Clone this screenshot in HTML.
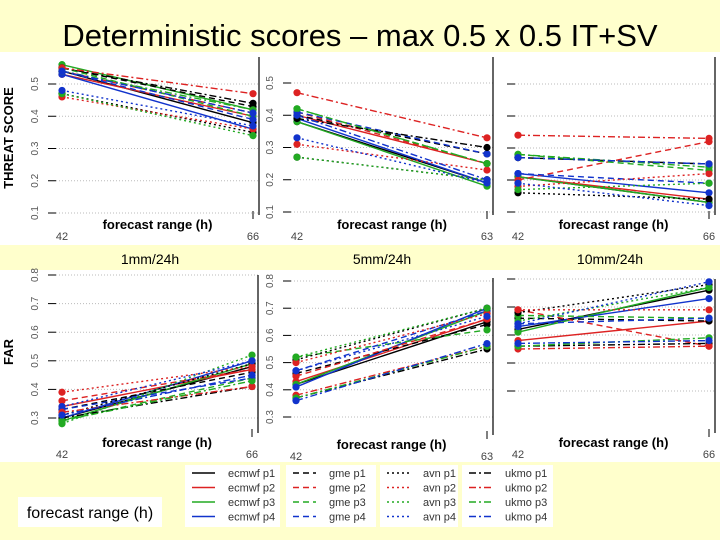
<!DOCTYPE html>
<html><head><meta charset="utf-8">
<style>
body{margin:0;background:#ffffcc;width:720px;height:540px;overflow:hidden;font-family:"Liberation Sans",sans-serif}
svg{position:absolute;left:0;top:0}
</style></head>
<body>
<svg width="720" height="540" xmlns="http://www.w3.org/2000/svg">
<rect x="0" y="0" width="720" height="540" fill="#ffffcc"/>
<text x="360" y="46" text-anchor="middle" font-size="31" fill="#000">Deterministic scores – max 0.5 x 0.5 IT+SV</text>
<g id="panels"></g>
<g id="legend"></g>
</svg>
<script>
const models = ["ecmwf","gme","avn","ukmo"];
const params = ["p1","p2","p3","p4"];
const colors = ["#000000","#dd2222","#22aa22","#1133cc"];
const ts1mm42 = [[0.54,0.53,0.56,0.53],[0.55,0.54,0.55,0.54],[0.47,0.46,0.47,0.48],[0.55,0.55,0.54,0.54]];
const ts1mm66 = [[0.38,0.40,0.42,0.36],[0.43,0.41,0.40,0.39],[0.35,0.36,0.34,0.37],[0.44,0.47,0.42,0.41]];
const ts5mm42 = [[0.38,0.40,0.38,0.39],[0.40,0.41,0.42,0.41],[0.27,0.31,0.27,0.33],[0.39,0.47,0.42,0.40]];
const ts5mm63 = [[0.19,0.25,0.18,0.19],[0.28,0.25,0.25,0.28],[0.20,0.23,0.20,0.19],[0.30,0.33,0.25,0.20]];
const ts10mm42 = [[0.21,0.21,0.21,0.22],[0.27,0.20,0.28,0.22],[0.16,0.18,0.17,0.19],[0.27,0.34,0.28,0.27]];
const ts10mm66 = [[0.13,0.14,0.13,0.16],[0.25,0.32,0.23,0.19],[0.14,0.22,0.19,0.12],[0.25,0.33,0.24,0.25]];
const far1mm42 = [[0.30,0.34,0.29,0.30],[0.33,0.36,0.29,0.33],[0.31,0.39,0.28,0.34],[0.30,0.32,0.29,0.31]];
const far1mm66 = [[0.48,0.47,0.49,0.50],[0.46,0.47,0.44,0.44],[0.49,0.48,0.52,0.50],[0.41,0.41,0.43,0.45]];
const far5mm42 = [[0.42,0.43,0.42,0.41],[0.46,0.45,0.52,0.47],[0.51,0.50,0.52,0.47],[0.37,0.38,0.37,0.36]];
const far5mm63 = [[0.65,0.66,0.69,0.70],[0.64,0.66,0.62,0.69],[0.70,0.68,0.70,0.67],[0.55,0.56,0.56,0.57]];
const far10mm42 = [[0.62,0.58,0.61,0.63],[0.66,0.69,0.67,0.64],[0.68,0.69,0.65,0.64],[0.56,0.55,0.56,0.57]];
const far10mm66 = [[0.76,0.65,0.77,0.73],[0.65,0.56,0.66,0.66],[0.78,0.69,0.77,0.79],[0.57,0.56,0.59,0.58]];
const tsTicks = [0.1,0.2,0.3,0.4,0.5];
const farTicks = [0.3,0.4,0.5,0.6,0.7,0.8];
const farTicksR = [0.4,0.5,0.6,0.7,0.8];

const NS="http://www.w3.org/2000/svg";
const dashes=["", "6,4", "2,3", "7,3,2,3"];
function mk(tag,attrs,parent){const e=document.createElementNS(NS,tag);for(const k in attrs)e.setAttribute(k,attrs[k]);parent.appendChild(e);return e;}
const P=document.getElementById("panels");

const panels=[
 {name:"ts-1mm",bg:[0,52,262,193],a:ts1mm42,b:ts1mm66,xa:62,xb:253,v0:0.5,y0:84,v1:0.1,y1:213,ticks:tsTicks,axX:48,endLab:"66",top:57,bot:215},
 {name:"ts-5mm",bg:[262,52,238,193],a:ts5mm42,b:ts5mm63,xa:297,xb:487,v0:0.5,y0:83,v1:0.1,y1:212,ticks:tsTicks,axX:283,endLab:"63",top:57,bot:215},
 {name:"ts-10mm",bg:[500,52,220,193],a:ts10mm42,b:ts10mm66,xa:518,xb:709,v0:0.5,y0:84,v1:0.1,y1:212,ticks:tsTicks,axX:507,endLab:"66",top:57,bot:215,nolab:true},
 {name:"far-1mm",bg:[0,270,262,192],a:far1mm42,b:far1mm66,xa:62,xb:252,v0:0.8,y0:275,v1:0.3,y1:418,ticks:farTicks,axX:48,endLab:"66",top:275,bot:433},
 {name:"far-5mm",bg:[262,270,238,192],a:far5mm42,b:far5mm63,xa:296,xb:487,v0:0.8,y0:281,v1:0.3,y1:417,ticks:farTicks,axX:283,endLab:"63",top:278,bot:435},
 {name:"far-10mm",bg:[500,270,220,192],a:far10mm42,b:far10mm66,xa:518,xb:709,v0:0.8,y0:279,v1:0.4,y1:391,ticks:farTicksR,axX:507,endLab:"66",top:279,bot:433,nolab:true}
];
panels.forEach(p=>{
 const g=mk("g",{},P);
 
 
 const bg=mk("rect",{x:p.bg[0],y:p.bg[1],width:p.bg[2],height:p.bg[3],fill:"#fff"},g);
 
 
 const yOf=v=>p.y0+(v-p.v0)*(p.y1-p.y0)/(p.v1-p.v0);
 const right=p.xb+6;
 p.ticks.forEach(t=>{
  const y=yOf(t);
  mk("line",{x1:p.axX+8,x2:right,y1:y,y2:y,stroke:"#bbb","stroke-dasharray":"1,2","stroke-width":1},g);
  mk("line",{x1:p.axX,x2:p.axX+8,y1:y,y2:y,stroke:"#000","stroke-width":1},g);
  if(!p.nolab){
   const tx=mk("text",{x:p.axX-10,y:y,"font-size":"10",fill:"#555","text-anchor":"middle",transform:`rotate(-90 ${p.axX-10} ${y})`},g);
   tx.textContent=String(t);
   
   
  }
 });
 mk("line",{x1:right,x2:right,y1:p.top,y2:p.bot,stroke:"#000","stroke-width":1.2},g);
 mk("line",{x1:p.xb,x2:p.xb,y1:p.bot-4,y2:p.bot+4,stroke:"#000"},g);
 for(let m=0;m<4;m++)for(let k=0;k<4;k++){
  const y1=yOf(p.a[m][k]), y2=yOf(p.b[m][k]);
  const ln=mk("line",{x1:p.xa,x2:p.xb,y1:y1,y2:y2,stroke:colors[k],"stroke-width":1.4,"stroke-dasharray":dashes[m]},g);
  
  
  [[p.xa,y1],[p.xb,y2]].forEach(pt=>{
   const c=mk("circle",{cx:pt[0],cy:pt[1],r:3.6,fill:colors[k]},g);
   
   
  });
 }
 const xl=mk("text",{x:(p.xa+p.xb)/2,y:p.bot+14,"font-size":"13","font-weight":"bold","text-anchor":"middle",fill:"#000"},g);
 xl.textContent="forecast range (h)";
 
 
 const l1=mk("text",{x:p.xa,y:p.bot+25,"font-size":"11","text-anchor":"middle",fill:"#444"},g);
 l1.textContent="42";
 
 
 const l2=mk("text",{x:p.xb,y:p.bot+25,"font-size":"11","text-anchor":"middle",fill:"#444"},g);
 l2.textContent=p.endLab;
 
 
});
const L=document.getElementById("legend");
[["1mm/24h",150],["5mm/24h",382],["10mm/24h",610]].forEach(s=>{
 const t=mk("text",{x:s[1],y:264,"font-size":"14","text-anchor":"middle",fill:"#000"},L);
 t.textContent=s[0];
 
 
});
const ya=mk("text",{x:13,y:138,"font-size":"13","font-weight":"bold","text-anchor":"middle",transform:"rotate(-90 13 138)"},L);
ya.textContent="THREAT SCORE";


const yb=mk("text",{x:13,y:352,"font-size":"13","font-weight":"bold","text-anchor":"middle",transform:"rotate(-90 13 352)"},L);
yb.textContent="FAR";


const fb=mk("rect",{x:18,y:497,width:144,height:30,fill:"#fff"},L);


const ft=mk("text",{x:90,y:518,"font-size":"16","text-anchor":"middle"},L);
ft.textContent="forecast range (h)";


const boxes=[[185,95],[286,90],[380,78],[462,91]];
const legendNames=[["ecmwf p1","ecmwf p2","ecmwf p3","ecmwf p4"],["gme p1","gme p2","gme p3","gme p4"],["avn p1","avn p2","avn p3","avn p4"],["ukmo p1","ukmo p2","ukmo p3","ukmo p4"]];
boxes.forEach((b,m)=>{
 const r=mk("rect",{x:b[0],y:465,width:b[1],height:62,fill:"#fff"},L);
 
 
 for(let k=0;k<4;k++){
  const y=473+k*14.5;
  const sl=mk("line",{x1:b[0]+7,x2:b[0]+30,y1:y,y2:y,stroke:colors[k],"stroke-width":1.4,"stroke-dasharray":dashes[m]},L);
  
  
  const t=mk("text",{x:b[0]+43,y:y+4,"font-size":"11",fill:"#333"},L);
  t.textContent=legendNames[m][k];
  
  
 }
});
</script>
</body></html>
